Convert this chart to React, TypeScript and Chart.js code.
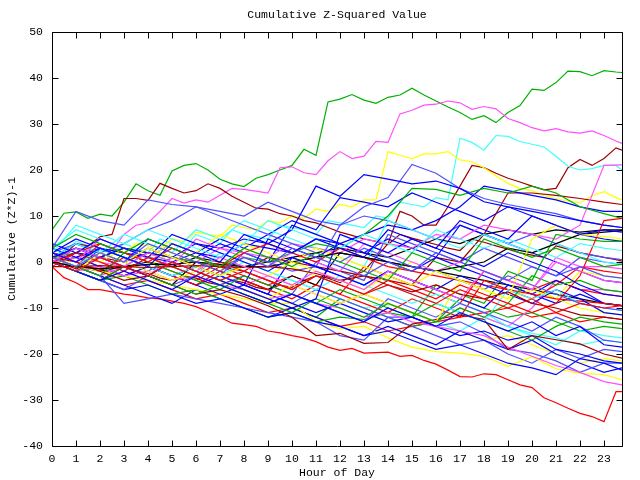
import React, { useEffect, useRef } from "react";
import { Chart, registerables } from "chart.js";

Chart.register(...registerables);

const FONT = '"Liberation Mono", "DejaVu Sans Mono", monospace';
const TITLE = "Cumulative Z-Squared Value";
const X_TITLE = "Hour of Day";
const Y_TITLE = "Cumulative (Z*Z)-1";

const RED = "#ff0000";
const GREEN = "#00b000";
const BLUE = "#0000ff";
const MAGENTA = "#ff50ff";
const CYAN = "#40ffff";
const DARKRED = "#a00000";
const YELLOW = "#ffff00";
const SLATE = "#5050ff";
const BLACK = "#000000";

// half-hour sampling grid for the most visible traces
const FINE_HOURS = [0, 0.5, 1, 1.5, 2, 2.5, 3, 3.5, 4, 4.5, 5, 5.5, 6, 6.5, 7, 7.5, 8, 8.5, 9, 9.5, 10, 10.5, 11, 11.5, 12, 12.5, 13, 13.5, 14, 14.5, 15, 15.5, 16, 16.5, 17, 17.5, 18, 18.5, 19, 19.5, 20, 20.5, 21, 21.5, 22, 22.5, 23, 23.5, 23.75];
// hourly grid for the background traces
const COARSE_HOURS = [0, 1, 2, 3, 4, 5, 6, 7, 8, 9, 10, 11, 12, 13, 14, 15, 16, 17, 18, 19, 20, 21, 22, 23, 23.75];

const G1 = [7, 10.6, 10.9, 9.5, 10.4, 10, 13, 17, 15.5, 14.5, 19.8, 21, 21.4, 20, 18, 17, 16.4, 18.2, 19, 20, 21, 24.5, 23.2, 34.8, 35.4, 36.4, 35.2, 34.5, 35.8, 36.3, 37.8, 36.3, 35, 33.7, 32.5, 31, 31.8, 30.3, 32.5, 34, 37.6, 37.3, 39, 41.5, 41.4, 40.5, 41.6, 41.3, 41.2];
const M1 = [1, 0.5, 2, 1.5, 3, 2.5, 6, 8, 8.5, 11, 13.8, 12.8, 13.5, 13, 14.5, 16, 15.8, 15.4, 15, 20.5, 20.7, 19.4, 19, 22, 24, 22.5, 23, 26.2, 26, 32.2, 33, 34.1, 34.3, 35, 34.6, 33.2, 33.8, 33.3, 31.2, 30.3, 29.2, 28.5, 29, 28.3, 28, 28.5, 27.5, 26.3, 25.8];
const C1 = [3, 2, 4.5, 3.5, 2.5, 2, 4, 3, 2, 5, 4, 3, 6, 5, 4, 7, 6, 5.5, 5, 8, 7.5, 7, 6, 9, 8.5, 8, 7.5, 10, 9.5, 13, 12.5, 12, 14, 13.5, 26.9, 26, 24.3, 27.5, 27.3, 26.2, 25.6, 25, 23, 20.8, 20, 20.3, 21, 21, 20];
const Y1 = [0, -0.5, 1, 0.5, 3, 2.5, 2, 4, 3.5, 3, 5, 4.5, 6.5, 6, 5.5, 8, 7.5, 7, 9, 8.5, 10, 9.5, 11.5, 11, 12.5, 12, 13.5, 13.5, 24, 23.2, 22.5, 23.5, 23.5, 24, 22.2, 21.8, 20.5, 18.7, 17.1, 16, 15.5, 14.4, 13.8, 13.2, 12.9, 14.4, 15.3, 14, 13.5];
const D1 = [0, -0.5, -1.5, -1, -1.5, -2.5, -3, -2, -2.5, -3.5, -4, -3, -3.5, -4.5, -5, -4, -4.5, -5.5, -6, -5, -5.5, -4, -3, -3.5, -4.5, -3, -2, 1, 4, 11, 10, 8, 8, 12, 16.5, 21, 20.5, 19.3, 18.2, 17.4, 16.5, 15.7, 16, 20.5, 22.3, 21, 22.5, 24.8, 24.3];
const D2 = [2, 1.5, 4, 3.5, 5.5, 6, 13.8, 13.8, 13.4, 17.1, 16, 15, 15.5, 17, 16, 14.3, 13, 11.7, 11.5, 10.5, 10, 9, 8.5, 7.5, 6.5, 5.8, 5, 4.5, 3.8, 6, 5.2, 4.5, 3.8, 3, 2.5, 5, 4.3, 3.5, 2.8, 2, 1.5, 1, 3.5, 2.8, 2, 1.5, 1, 0.5, 0.2];
const R1 = [-1, -3.4, -4.5, -6, -6, -6.5, -7, -7.3, -7.8, -8, -8.5, -9, -9.7, -10.8, -12, -13.3, -13.6, -14, -15, -15.4, -16, -16.5, -17.3, -18.5, -19.2, -18.8, -19.8, -19.7, -19.6, -20.5, -20.3, -21.4, -22.2, -23.5, -24.9, -25, -24.3, -24.5, -25.6, -26.7, -27.3, -29.5, -30.6, -31.8, -32.9, -33.6, -34.7, -28.2, -28.2];

const BG01 = [2, 0, 3, 1, -1, 4, 2, 0, 6, 4, 2, 5, 3, 1, 7, 5, 3, 9, 7, 5, 10, 8, 6, 7, 6.5];
const BG02 = [1, -1, 2, 0, 4, 2, 0, -2, 1, -1, 3, 1, -1, -3, 0, -2, 2, 0, -2, -4, -1, -3, -1, -3, -3.5];
const BG03 = [0, -2, 1, -1, -3, 0, -2, -4, -2, -4, -6, -3, -5, -7, -5, -7, -9, -6, -8, -10, -8, -11, -9, -10, -9.5];
const BG04 = [3, 6, 4, 2, 5, 3, 1, -1, 3, 1, -1, 2, 0, -2, -4, 2, 0, -2, 5, 3, 1, 3, 1, -1, -0.5];
const BG05 = [0, 3, 1, -1, 2, 0, -2, 1, -1, -3, -5, -2, -4, -6, -2, -4, -6, -8, -2, -4, -6, 0, -2, -4, -4.5];
const BG06 = [2, 8, 6, 4, 7, 5, 3, 1, 4, 9, 7, 5, 3, 6, 4, 2, 7, 5, 3, 5, 3, 1, 4, 3, 2.5];
const BG07 = [-1, -1, -0.8, -1, -1.2, -1, -0.8, -1, -1.2, -1, -1.5, -2.5, -4, -3, -5, -6.5, -5, -7, -8, -6.5, -9, -10, -11.5, -12, -12.5];
const BG08 = [1, -1, 2, 0, 3, 1, -1, -3, -1, -3, 0, -2, -4, -6, -3, -5, -2, -4, -6, -8, 5, 8, 6, 5.5, 5];
const BG09 = [0, -2, -4, -2, -4, -6, -3, -5, -7, -9, -7, -9, -11, -13, -10, -12, -14, -11, -13, -15, -13, -16, -14, -18, -18.5];
const BG10 = [1, 3, 1, -1, -3, 0, -2, -4, -6, -8, -10, -8, 6, 4, 2, 5, 3, 1, -1, 2, 0, -2, -5, -7, -7.5];
const BG11 = [3, 11, 9, 8, 13.5, 12.5, 12, 10, 8, 6, 4, 2, 0, 3, 1, -1, -2, -4, -6, -3, -5, -7, -9, -10, -10.5];
const BG12 = [-1, 2, 0, -2, 1, -1, -3, 0, -2, -4, -6, -3, -5, -7, -4, -6, -8, -5, -7, -9, -11, -9, -3, 9, 9.5];
const BG13 = [0, -2, -4, -1, -3, -5, -7, -5, -7, -9, -11, -8, -10, -12, -9, -11, -13, -10, -12, -9, -3, -5, -4, -6, -6.5];
const BG14 = [0, -2, 1, -1, -3, 0, -2, -4, -2, -4, -6, -3, -5, -7, -5, -7, -9, -11, -13, -6, -8, -6, -9, -10, -10.5];
const BG15 = [4, 2, 5, 3, 1, 6, 4, 2, 0, -2, 1, -1, -3, -5, -2, -4, -6, -3, -5, -7, -9, -6, -8, -11, -11.5];
const BG16 = [0, -1, -1.5, -1, -0.5, -0.5, 0, -0.5, -1, -1, 0, 1, 2, 1, 0, -1, -2, -1, 0, 3, 2, 4, 6, 6.5, 6.8];
const BG17 = [0, 2, 4, 2, 0, 3, 1, -1, 2, 4, 2, 0, 3, 1, -1, -2, -3, -4, -5, -6, -7, -8, -8.5, -9, -9.5];
const BG18 = [2, 0, 5, 3, 1, -1, 5, 3, 1, -1, 2, 0, -2, 4, 2, 0, -2, 0, -2, -4, -6, 1, -1, -1, -1.5];
const BG19 = [0, -2, 2, 0, -2, -4, -2, -4, -6, -8, -5, -7, -9, -7, -9, -11, -13, -4, -6, -8, -6, -8, -2, -3, -3.5];
const BG20 = [1, 0, -2, -4, -3, -5, -7, -6, -7.5, -9.5, -12, -16, -15.5, -17.7, -17.5, -13.5, -12.5, -11.5, -12.5, -19, -16, -16.9, -17.8, -20, -20.9];
const BG21 = [0, -2, -4, -6, -3, -5, -3, -5, -7, -9, -7, -9, -11, -13, -8, -10, -12, -9, -11, -13, -15, -12, -14, -17, -17.5];
const BG22 = [0, -2, -4, -6, -5, -7, -9, -8, -10, -12, -11, -13, -14, -16, -15, -17, -19, -18, -20, -22, -23, -24.5, -21, -22, -23.5];
const BG23 = [1, -1, -3, 2, 0, -2, -4, -6, -3, -5, -7, -9, -6, -8, -10, -12, -9, -11, -13, -15, -17, -14, -12, -13, -13.5];
const BG24 = [1, -1, 3, 1, -1, -3, -1, -3, 0, -2, -4, -6, -3, -5, -7, -9, -7, -9, -11, -14, -15.5, -16.5, -18, -17, -17.5];
const BG25 = [2, 5, 3, 1, -1, -3, -1, -3, -5, 5, 3, 1, 4, 2, 0, -2, 1, -1, -3, -5, -7, -4, -6, -9, -9.5];
const BG26 = [0, -2, -1, -3, -2, -4, -3, -5, -6, -8, -7, -9, -10, -12, -11, -13, -14, -15, -16, -18.5, -20.5, -22.5, -24, -26, -26.7];
const BG27 = [2, 0, -2, 1, -1, -3, -5, -2, -4, -6, -8, -5, -7, -9, -11, -8, -10, -12, -4, -6, -8, -5, -1, -2, -2.5];
const BG28 = [0, 2, 1, 3, 2, 1, 4, 3, 5, 4, 7, 16.5, 14.3, 19, 18, 17, 17.6, 16, 13.1, 12, 11, 10, 9, 8, 7.5];
const BG29 = [1, -1, 2, 0, 3, 1, -1, -3, 2, 0, -2, -1, 8, 12, 14, 21.2, 19.3, 16, 13.8, 12.5, 11.5, 10.5, 9, 8, 7.5];
const BG30 = [1, 2, 1, 3, 2, 1, 0, -1, 1, 0, 2, 4, 3, 6, 10, 16, 15.8, 14.5, 16, 15, 16.5, 15, 12, 10.5, 9.5];
const BG31 = [0, 2, 0, 3, 1, 4, 2, 6, 4, 2, 0, 3, 1, -1, -3, 0, -2, -4, -6, -3, -5, -8, -10, -11, -11.5];
const BG32 = [0, -2, -4, -1, -3, -5, 0, -2, -4, -6, -3, -5, 2, 1, 0, -1, -2, -3, -4, -5, -6, -7, -8, -9, -9.5];
const BG33 = [1, -1, 4, 2, 0, -2, -4, -1, -3, -5, -3, -5, -7, -1, -3, -5, -7, -9, -2, -4, -6, -4, -6, -7, -7.5];
const BG34 = [1, 4, 2, 6, 4, 2, 7, 5, 9, 7, 5, 3, 1, -1, 9, 7, 5, 3, 6, 4, 2, 4, 2, 0, -0.5];
const BG35 = [3, 1, -1, -3, -1, -3, -5, -7, -5, -7, -9, -11, -9, -11, -13, -12, -14, -16, -15, -17, -16, -19, -20, -21.5, -22];
const BG36 = [0, -1, -3, -9, -8, -7, -8, -9, -10, -11, -12, -13, -16, -17, -12, -12, -14, -13, -15.5, -19, -19.8, -21.5, -24, -22, -22];
const BG37 = [0, -1, -2, -3, -4, -5, -6, -7, -8, -9, -9, -13, -14.5, -14, -16.5, -18.5, -19.5, -19.8, -20.5, -22.7, -20.6, -23.2, -24.2, -24.5, -25.6];
const BG38 = [0, -2, -4, -3, -5, -7, -6, -8, -10, -12, -11, -13, -12, -12.5, -11, -12, -5, -7, -9, -2, -4, 6, 5, 4.5, 4.5];
const BG39 = [1, -1, -3, -1, -3, 1, -1, -3, -5, -3, -5, -7, -9, -7, -9, -11, -13, -10, -12, -14, -10, -4, -6, -6, -6.5];
const BG40 = [0, -2, 3, 1, -1, -3, -5, -3, -5, -7, 1, -1, -3, -5, -2, -4, -6, -8, -10, -5, -7, -9, -7, -9, -9.5];
const BG41 = [0, 1, 0, -1, 2, 1, 0, 3, 2, 1, 4, 3, 2, 5, 4, 3, 6, 5, 8, 7, 6, 5, 8, 21, 21.1];
const BG42 = [0, 1, 3, 2, 1, 0, 2, 1, 4, 3, 2, 5, 4, 6, 8, 7, 9, 12, 16.5, 15.5, 14.5, 13.5, 12, 11, 11];
const BG43 = [0, -1, 1, 0, 2, 1, 0, -1, -2, 1, 0, -1, -2, -3, -4, -5, 1, 0, 6, 15, 15, 14.5, 13.8, 13, 12.5];
const BG44 = [1, -1, -3, -5, -7, -9, -6, -8, -10, -12, -10, -12, -14, -16, -14, -16, -18, -15, -17, -19, -17, -20, -22, -24, -23];
const BG45 = [2, 4, 2, 0, -2, 1, -1, -3, -5, -7, -9, -6, -8, -10, -12, -14, -16, -18, -17, -20, -22, -19, -21, -19, -19.5];
const BG46 = [3, 7, 5, 3, 1, -1, -3, 2, 0, -2, -4, -6, -8, -10, -9, -11, -13, -15, -12, -14, -16, -18, -15, -16, -16.5];
const BG47 = [0, 3, 1, -1, 2, 0, -2, -4, -6, -8, -10, -12, -8, -10, -12, -14, -13, -8, -10, -12, -11, -13, -15, -14, -14.5];
const BG48 = [0, -1, -3, -5, -4, -6, -8, -7, -9, -11, -10, -12, -14, -13, -15, -14, -13, -12, -11, -10, -12, -11, -13, -12, -12.5];
const BG49 = [1, 4, 2, 0, 5, 3, 1, 4, 2, 0, 8, 6, 4, 2, 5, 3, 1, 8, 6, 4, 2, 0, -2, -4, -4.5];
const BG50 = [2, 0, 3, 1, -1, 2, 0, -2, 3, 1, -1, -3, -5, -7, -9, -11, -13, -15, -17, -16, -18, -20, -22, -21, -21.5];
const BG51 = [0, 2, 0, -2, 1, -1, -3, -5, -3, -5, -7, 0, -2, -4, 6, 4, 2, 0, 3, 1, -1, -3, 1, 0, -0.5];
const BG52 = [0, -1, -2, -1, 0, -1, 1, 0, -1, 0, 1, 2, 3, 2, 1, 3, 5, 4, 6, 7, 6, 7, 6.5, 7, 7];
const BG53 = [1, 3, 2, 4, 7, 9, 12, 11, 10, 13, 11, 9, 8, 10, 9, 7, 5, 8, 6, 4, 6, 4, 2, 1, 0.5];
const BG54 = [0, 2, 1, 3, 1, 4, 2, 5, 3, 6, 9, 7, 14, 13, 12, 15, 13, 11, 9, 12, 10, 8, 6, 5, 4.5];

type Series = { hours: number[]; values: number[]; color: string };

const SERIES: Series[] = [
  { hours: COARSE_HOURS, values: BG01, color: BLUE },
  { hours: COARSE_HOURS, values: BG02, color: SLATE },
  { hours: COARSE_HOURS, values: BG03, color: RED },
  { hours: COARSE_HOURS, values: BG04, color: GREEN },
  { hours: COARSE_HOURS, values: BG05, color: MAGENTA },
  { hours: COARSE_HOURS, values: BG06, color: CYAN },
  { hours: COARSE_HOURS, values: BG07, color: DARKRED },
  { hours: COARSE_HOURS, values: BG08, color: YELLOW },
  { hours: COARSE_HOURS, values: BG09, color: BLUE },
  { hours: COARSE_HOURS, values: BG10, color: BLUE },
  { hours: COARSE_HOURS, values: BG11, color: SLATE },
  { hours: COARSE_HOURS, values: BG12, color: RED },
  { hours: COARSE_HOURS, values: BG13, color: GREEN },
  { hours: COARSE_HOURS, values: BG14, color: CYAN },
  { hours: COARSE_HOURS, values: BG15, color: BLUE },
  { hours: COARSE_HOURS, values: BG16, color: BLACK },
  { hours: COARSE_HOURS, values: BG17, color: RED },
  { hours: COARSE_HOURS, values: BG18, color: MAGENTA },
  { hours: COARSE_HOURS, values: BG19, color: YELLOW },
  { hours: COARSE_HOURS, values: BG20, color: DARKRED },
  { hours: COARSE_HOURS, values: BG21, color: SLATE },
  { hours: COARSE_HOURS, values: BG22, color: BLUE },
  { hours: COARSE_HOURS, values: BG23, color: GREEN },
  { hours: COARSE_HOURS, values: BG24, color: CYAN },
  { hours: COARSE_HOURS, values: BG25, color: BLUE },
  { hours: COARSE_HOURS, values: BG26, color: MAGENTA },
  { hours: COARSE_HOURS, values: BG27, color: RED },
  { hours: COARSE_HOURS, values: BG28, color: BLUE },
  { hours: COARSE_HOURS, values: BG29, color: SLATE },
  { hours: COARSE_HOURS, values: BG30, color: GREEN },
  { hours: COARSE_HOURS, values: BG31, color: YELLOW },
  { hours: COARSE_HOURS, values: BG32, color: BLACK },
  { hours: COARSE_HOURS, values: BG33, color: RED },
  { hours: COARSE_HOURS, values: BG34, color: CYAN },
  { hours: COARSE_HOURS, values: BG35, color: BLUE },
  { hours: COARSE_HOURS, values: BG36, color: SLATE },
  { hours: COARSE_HOURS, values: BG37, color: YELLOW },
  { hours: COARSE_HOURS, values: BG38, color: GREEN },
  { hours: COARSE_HOURS, values: BG39, color: MAGENTA },
  { hours: COARSE_HOURS, values: BG40, color: BLUE },
  { hours: COARSE_HOURS, values: BG41, color: MAGENTA },
  { hours: COARSE_HOURS, values: BG42, color: BLUE },
  { hours: COARSE_HOURS, values: BG43, color: DARKRED },
  { hours: COARSE_HOURS, values: BG44, color: BLUE },
  { hours: COARSE_HOURS, values: BG45, color: SLATE },
  { hours: COARSE_HOURS, values: BG46, color: CYAN },
  { hours: COARSE_HOURS, values: BG47, color: GREEN },
  { hours: COARSE_HOURS, values: BG48, color: RED },
  { hours: COARSE_HOURS, values: BG49, color: BLUE },
  { hours: COARSE_HOURS, values: BG50, color: YELLOW },
  { hours: COARSE_HOURS, values: BG51, color: SLATE },
  { hours: COARSE_HOURS, values: BG52, color: BLACK },
  { hours: COARSE_HOURS, values: BG53, color: SLATE },
  { hours: COARSE_HOURS, values: BG54, color: BLUE },
  { hours: FINE_HOURS, values: D2, color: DARKRED },
  { hours: FINE_HOURS, values: Y1, color: YELLOW },
  { hours: FINE_HOURS, values: C1, color: CYAN },
  { hours: FINE_HOURS, values: D1, color: DARKRED },
  { hours: FINE_HOURS, values: M1, color: MAGENTA },
  { hours: FINE_HOURS, values: G1, color: GREEN },
  { hours: FINE_HOURS, values: R1, color: RED },
];

const framePlugin = {
  id: "gnuplotFrame",
  afterDatasetsDraw(chart: any) {
    const { ctx, chartArea, scales } = chart;
    const { left, right, top, bottom } = chartArea;
    const xs = scales.x;
    const ys = scales.y;
    const L = Math.round(left) + 0.5;
    const R = Math.round(right) + 0.5;
    const T = Math.round(top) + 0.5;
    const B = Math.round(bottom) + 0.5;
    ctx.save();
    ctx.strokeStyle = "#000";
    ctx.lineWidth = 1;
    ctx.beginPath();
    ctx.moveTo(L, T);
    ctx.lineTo(R, T);
    ctx.lineTo(R, B);
    ctx.lineTo(L, B);
    ctx.closePath();
    for (const t of xs.ticks) {
      const px = Math.round(xs.getPixelForValue(t.value)) + 0.5;
      ctx.moveTo(px, B);
      ctx.lineTo(px, B - 6);
      ctx.moveTo(px, T);
      ctx.lineTo(px, T + 6);
    }
    for (const t of ys.ticks) {
      const py = Math.round(ys.getPixelForValue(t.value)) + 0.5;
      ctx.moveTo(L, py);
      ctx.lineTo(L + 6, py);
      ctx.moveTo(R, py);
      ctx.lineTo(R - 6, py);
    }
    ctx.stroke();
    ctx.fillStyle = "#000";
    ctx.font = `11.5px ${FONT}`;
    ctx.textAlign = "center";
    ctx.textBaseline = "middle";
    const cx = (left + right) / 2;
    ctx.fillText(TITLE, cx, top - 17);
    ctx.fillText(X_TITLE, cx, bottom + 27);
    ctx.translate(12, (top + bottom) / 2);
    ctx.rotate(-Math.PI / 2);
    ctx.fillText(Y_TITLE, 0, 0);
    ctx.restore();
  },
};

export default function App() {
  const canvasRef = useRef<HTMLCanvasElement | null>(null);

  useEffect(() => {
    const canvas = canvasRef.current;
    if (!canvas) return;
    const datasets = SERIES.map((s, i) => ({
      label: `s${i + 1}`,
      data: s.hours.map((h, k) => ({ x: h, y: s.values[k] })),
      borderColor: s.color,
      backgroundColor: s.color,
      borderWidth: 1.2,
      pointRadius: 0,
      fill: false,
      tension: 0,
    }));
    const chart = new Chart(canvas, {
      type: "line",
      data: { datasets },
      options: {
        animation: false,
        responsive: false,
        maintainAspectRatio: false,
        devicePixelRatio: 1,
        events: [],
        layout: { padding: { top: 32, right: 18, left: 0, bottom: 0 } },
        plugins: { legend: { display: false }, tooltip: { enabled: false }, title: { display: false } },
        scales: {
          x: {
            type: "linear",
            min: 0,
            max: 23.75,
            grid: { display: false, drawTicks: false },
            border: { display: false },
            ticks: {
              stepSize: 1,
              includeBounds: false,
              autoSkip: false,
              maxRotation: 0,
              minRotation: 0,
              padding: 6,
              color: "#000",
              font: { family: FONT, size: 11.5 },
              callback: (v: any) => String(v),
            },
            afterFit: (scale: any) => {
              scale.height = 34;
            },
          },
          y: {
            type: "linear",
            min: -40,
            max: 50,
            grid: { display: false, drawTicks: false },
            border: { display: false },
            ticks: {
              stepSize: 10,
              padding: 9,
              color: "#000",
              font: { family: FONT, size: 11.5 },
            },
            afterFit: (scale: any) => {
              scale.width = 52;
            },
          },
        },
      },
      plugins: [framePlugin],
    });
    return () => chart.destroy();
  }, []);

  return (
    <div style={{ position: "fixed", left: 0, top: 0, width: 640, height: 480, background: "#fff" }}>
      <canvas ref={canvasRef} width={640} height={480} style={{ display: "block" }} />
    </div>
  );
}
